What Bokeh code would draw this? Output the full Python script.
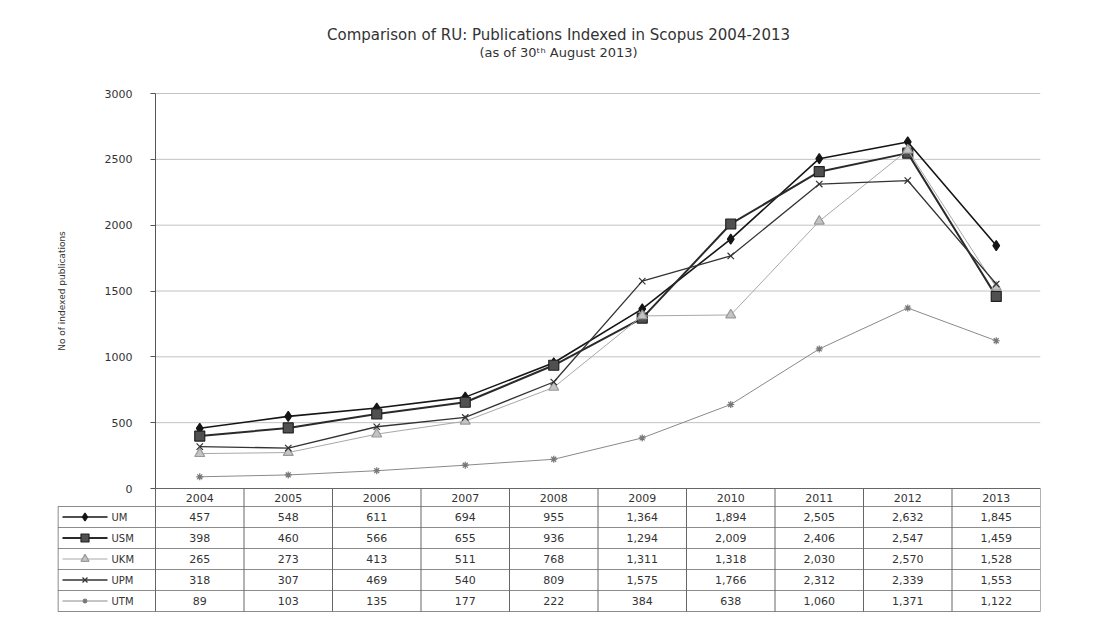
import math
from bokeh.plotting import figure
from bokeh.models import Range1d, FixedTicker
from bokeh.embed import file_html
from bokeh.resources import INLINE
from bokeh.core.properties import value

# ---------------- data ----------------
years = ["2004", "2005", "2006", "2007", "2008", "2009", "2010", "2011", "2012", "2013"]
UM = [457, 548, 611, 694, 955, 1364, 1894, 2505, 2632, 1845]
USM = [398, 460, 566, 655, 936, 1294, 2009, 2406, 2547, 1459]
UKM = [265, 273, 413, 511, 768, 1311, 1318, 2030, 2570, 1528]
UPM = [318, 307, 469, 540, 809, 1575, 1766, 2312, 2339, 1553]
UTM = [89, 103, 135, 177, 222, 384, 638, 1060, 1371, 1122]
series_names = ["UM", "USM", "UKM", "UPM", "UTM"]
series_values = [UM, USM, UKM, UPM, UTM]
y_ticks = [0, 500, 1000, 1500, 2000, 2500, 3000]
title_main = "Comparison of RU: Publications Indexed in Scopus 2004-2013"
title_sub = "(as of 30\u1d57\u02b0 August 2013)"
y_label = "No of indexed publications"

# ---------------- styles ----------------
styles = {
    "UM":  dict(marker="diamond", size=10, line="#151515", lw=1.6, fill="#151515", mline="#151515"),
    "USM": dict(marker="square", size=10, line="#2a2a2a", lw=2.0, fill="#505050", mline="#222222"),
    "UKM": dict(marker="triangle", size=10, line="#a8a8a8", lw=1.0, fill="#c4c4c4", mline="#999999"),
    "UPM": dict(marker="x", size=9, line="#333333", lw=1.3, fill="#333333", mline="#333333"),
    "UTM": dict(marker="asterisk", size=7, line="#8a8a8a", lw=1.0, fill="#8a8a8a", mline="#777777"),
}
FONT = "DejaVu Sans"
TXT = "#333333"
W = 1100
H = 613
PLOT_L = 155          # pixel column of the value axis
PLOT_R = 1040
LEG_W = 98            # width of the legend column of the data table
TOP_Y = 93            # pixel row of the top value tick
ZERO_Y = 488          # pixel row of the value 0
HEADER_H = 18         # year header row height
ROW_H = 21            # data table row height
TITLE_X = 558         # pixel column of the title centre
TITLE_Y = 34
SUB_Y = 52
NCOL = len(years)
PX = NCOL / (PLOT_R - PLOT_L)             # data units per pixel (x)
PY = y_ticks[-1] / (ZERO_Y - TOP_Y)       # data units per pixel (y)
L = LEG_W * PX
Y_TOP = y_ticks[-1]
Y_MAX = Y_TOP + TOP_Y * PY
Y_MIN = -(H - ZERO_Y) * PY


def px_to_y(py):
    return Y_TOP - (py - TOP_Y) * PY


p = figure(width=W, height=H, x_range=Range1d(-L, NCOL), y_range=Range1d(Y_MIN, Y_MAX),
           output_backend="svg", toolbar_location=None, x_axis_location=None,
           min_border_left=PLOT_L - LEG_W, min_border_right=W - PLOT_R,
           min_border_top=0, min_border_bottom=0)
p.outline_line_color = None
p.background_fill_color = "white"
p.border_fill_color = "white"
p.xgrid.visible = False
p.ygrid.visible = False

xs = [i + 0.5 for i in range(NCOL)]
bounds = list(range(NCOL + 1))

# value axis drawn at x = 0 (left edge of the plot area)
ax = p.yaxis[0]
ax.fixed_location = 0
ax.bounds = (0, Y_TOP)
ax.ticker = FixedTicker(ticks=y_ticks)
ax.axis_line_color = "#555555"
ax.major_tick_line_color = "#555555"
ax.major_tick_out = 5
ax.major_tick_in = 0
ax.minor_tick_line_color = None
ax.major_label_text_font = FONT
ax.major_label_text_font_size = "11px"
ax.major_label_text_color = TXT
ax.major_label_standoff = 18

# horizontal gridlines inside the plot area
p.segment(x0=[0] * len(y_ticks), y0=y_ticks, x1=[NCOL] * len(y_ticks), y1=y_ticks,
          line_color="#c2c2c2", line_width=1)

# titles
p.text(x=[(TITLE_X - PLOT_L) * PX], y=[px_to_y(TITLE_Y)], text=[title_main],
       text_align="center", text_baseline="middle", text_font=value(FONT),
       text_font_size="15px", text_color=TXT)
p.text(x=[(TITLE_X - PLOT_L) * PX], y=[px_to_y(SUB_Y)], text=[title_sub],
       text_align="center", text_baseline="middle", text_font=value(FONT),
       text_font_size="13px", text_color=TXT)

# axis title
p.text(x=[-L + 4 * PX], y=[Y_TOP / 2], text=[y_label], angle=math.pi / 2,
       text_align="center", text_baseline="middle", text_font=value(FONT),
       text_font_size="9px", text_color=TXT)

# series
for name, vals in zip(series_names, series_values):
    s = styles[name]
    p.line(xs, vals, line_color=s["line"], line_width=s["lw"])
    p.scatter(xs, vals, marker=s["marker"], size=s["size"], fill_color=s["fill"],
              line_color=s["mline"], line_width=1.2)

# ---------------- data table ----------------
nrows = len(series_names)
hdr_bot = -HEADER_H * PY
row_edges = [hdr_bot - r * ROW_H * PY for r in range(nrows + 1)]
tbl_bot = row_edges[-1]

p.segment(x0=[0], y0=[0], x1=[NCOL], y1=[0], line_color="#666666", line_width=1)
p.segment(x0=[-L + 0.5 * PX] * len(row_edges), y0=row_edges, x1=[NCOL] * len(row_edges),
          y1=row_edges, line_color="#8c8c8c", line_width=1)
p.segment(x0=bounds, y0=[0] * len(bounds), x1=bounds, y1=[tbl_bot] * len(bounds),
          line_color="#666666", line_width=1)
p.segment(x0=[-L + 0.5 * PX], y0=[hdr_bot], x1=[-L + 0.5 * PX], y1=[tbl_bot],
          line_color="#666666", line_width=1)

p.text(x=xs, y=[hdr_bot / 2] * NCOL, text=years, text_align="center", text_baseline="middle",
       text_font=value(FONT), text_font_size="11px", text_color=TXT)

for r, (name, vals) in enumerate(zip(series_names, series_values)):
    yc = (row_edges[r] + row_edges[r + 1]) / 2
    s = styles[name]
    p.text(x=xs, y=[yc] * NCOL, text=[f"{v:,}" for v in vals], text_align="center",
           text_baseline="middle", text_font=value(FONT), text_font_size="11px",
           text_color=TXT)
    k0 = -L + 5 * PX
    k1 = -L + 50 * PX
    p.segment(x0=[k0], y0=[yc], x1=[k1], y1=[yc], line_color=s["line"], line_width=s["lw"])
    p.scatter(x=[(k0 + k1) / 2], y=[yc], marker=s["marker"], size=s["size"] - 2,
              fill_color=s["fill"], line_color=s["mline"], line_width=1.2)
    p.text(x=[-L + 54 * PX], y=[yc], text=[name], text_align="left", text_baseline="middle",
           text_font=value(FONT), text_font_size="10px", text_color=TXT)

open("out.html", "w").write(file_html(p, INLINE))
